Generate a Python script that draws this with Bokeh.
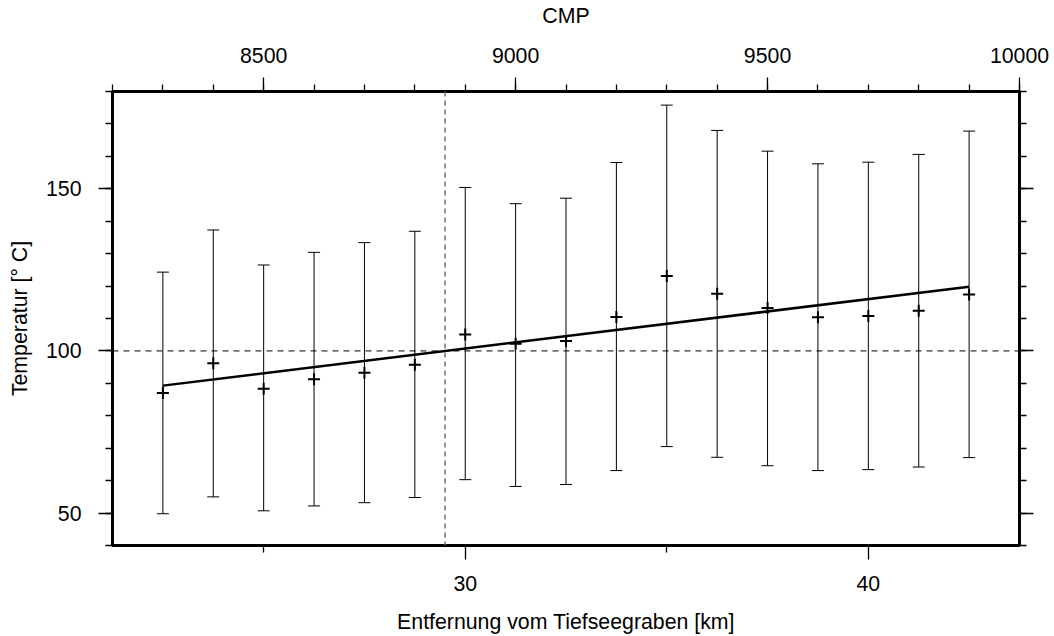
from bokeh.plotting import figure
from bokeh.models import Range1d, LinearAxis, FixedTicker, Span, CustomJSTickFormatter, ColumnDataSource
from bokeh.embed import file_html
from bokeh.resources import INLINE

# ---- data ----
cmp = [8300, 8400, 8500, 8600, 8700, 8800, 8900, 9000, 9100,
       9200, 9300, 9400, 9500, 9600, 9700, 9800, 9900]
temp = [87.0, 96.2, 88.3, 91.3, 93.3, 95.7, 105.1, 102.2, 103.1,
        110.5, 123.1, 117.6, 113.2, 110.4, 110.8, 112.4, 117.4]
temp_upper = [124.3, 137.3, 126.5, 130.4, 133.4, 136.9, 150.4, 145.4, 147.1,
              158.1, 175.8, 168.0, 161.6, 157.7, 158.2, 160.6, 167.8]
temp_lower = [49.8, 55.0, 50.7, 52.2, 53.2, 54.8, 60.3, 58.2, 58.8,
              63.1, 70.5, 67.2, 64.6, 63.1, 63.4, 64.2, 67.1]
fit_cmp = [8300, 9900]
fit_temp = [89.3, 119.8]
ref_temp = 100
boundary_km = 29.5
cmp_limits = (8200, 10000)
km_limits = (21.25, 43.75)
temp_limits = (40, 180)
cmp_ticks = [8500, 9000, 9500, 10000]
cmp_minor = list(range(8200, 10001, 100))
km_ticks = [30, 40]
km_minor = [25, 35]
temp_ticks = [50, 100, 150]
temp_minor = list(range(40, 181, 10))

FONT = "Liberation Sans"
FS = "21.3px"

p = figure(width=1054, height=636, output_backend="svg", toolbar_location=None,
           x_range=Range1d(*cmp_limits), y_range=Range1d(*temp_limits),
           x_axis_location=None, y_axis_location=None,
           min_border_left=112, min_border_right=35,
           min_border_top=91, min_border_bottom=90)
p.extra_x_ranges = {"km": Range1d(*km_limits)}
p.outline_line_color = "black"
p.outline_line_width = 3
p.background_fill_color = "white"
p.border_fill_color = "white"
p.grid.grid_line_color = None
p.grid.visible = False


def style(ax, label_standoff, axis_standoff):
    ax.axis_line_color = None
    ax.major_tick_out = 14
    ax.major_tick_in = 0
    ax.minor_tick_out = 7
    ax.minor_tick_in = 0
    ax.major_tick_line_width = 1.3
    ax.minor_tick_line_width = 1.3
    ax.major_tick_line_color = "black"
    ax.minor_tick_line_color = "black"
    ax.major_label_text_font = FONT
    ax.major_label_text_font_size = FS
    ax.major_label_text_color = "black"
    ax.axis_label_text_font = FONT
    ax.axis_label_text_font_size = FS
    ax.axis_label_text_font_style = "normal"
    ax.axis_label_text_color = "black"
    ax.major_label_standoff = label_standoff
    ax.axis_label_standoff = axis_standoff


top = LinearAxis(axis_label="CMP",
                 ticker=FixedTicker(ticks=cmp_ticks, minor_ticks=cmp_minor))
style(top, 15, 17)
p.add_layout(top, "above")

bottom = LinearAxis(x_range_name="km", axis_label="Entfernung vom Tiefseegraben [km]",
                    ticker=FixedTicker(ticks=km_ticks, minor_ticks=km_minor))
style(bottom, 16, 16)
p.add_layout(bottom, "below")

left = LinearAxis(axis_label="Temperatur [° C]",
                  ticker=FixedTicker(ticks=temp_ticks, minor_ticks=temp_minor))
style(left, 17, 11)
left.major_label_orientation = "horizontal"
p.add_layout(left, "left")

right = LinearAxis(ticker=FixedTicker(ticks=temp_ticks, minor_ticks=temp_minor),
                   formatter=CustomJSTickFormatter(code="return ''"))
style(right, 0, 0)
p.add_layout(right, "right")

# reference lines
p.add_layout(Span(location=ref_temp, dimension="width", line_color="black",
                  line_width=1, line_dash="6 5"))
p.add_layout(Span(location=boundary_km, dimension="height", x_range_name="km",
                  line_color="#707070", line_width=1.5, line_dash="5 4"))

src = ColumnDataSource(dict(x=cmp, y=temp, lo=temp_lower, hi=temp_upper))
p.segment(x0="x", y0="lo", x1="x", y1="hi", source=src, line_color="black", line_width=1)
p.scatter(x="x", y="hi", source=src, marker="dash", size=12, line_color="black", line_width=1)
p.scatter(x="x", y="lo", source=src, marker="dash", size=12, line_color="black", line_width=1)
p.line(fit_cmp, fit_temp, line_color="black", line_width=2.5)
p.scatter(x="x", y="y", source=src, marker="cross", size=12, line_color="black", line_width=2)

open("out.html", "w").write(file_html(p, INLINE))
